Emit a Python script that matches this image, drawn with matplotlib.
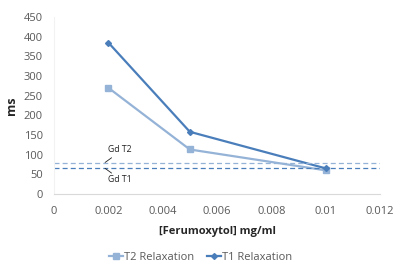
import matplotlib.pyplot as plt
import numpy as np

plt.rcParams['font.family'] = ['Open Sans', 'DejaVu Sans']

conc = [0.002, 0.005, 0.01]
t2_relax = [270, 113, 60]
t1_relax = [385, 158, 65]
gd_t2 = 78
gd_t1 = 67

c_t2 = '#95B3D7'
c_t1 = '#4A7EBB'
grey = '#595959'

fig = plt.figure(figsize=(4.0, 2.66), dpi=100)
ax = fig.add_axes([0.135, 0.271, 0.815, 0.665])

ax.plot(conc, t2_relax, color=c_t2, lw=1.6, marker='s', ms=4.5, label='T2 Relaxation')
ax.plot(conc, t1_relax, color=c_t1, lw=1.6, marker='D', ms=3, label='T1 Relaxation')

ax.axhline(gd_t2, color=c_t2, lw=0.9, ls=(0, (4, 2.5)))
ax.axhline(gd_t1, color=c_t1, lw=0.9, ls=(0, (4, 2.5)))

# labels for the Gd reference lines, with short leader lines
leader = dict(arrowstyle='-', color='#222222', lw=0.6, shrinkA=0, shrinkB=0)
ax.annotate('', xy=(0.00188, gd_t2 + 2), xytext=(0.00212, gd_t2 + 14), arrowprops=leader)
ax.annotate('', xy=(0.00188, gd_t1 - 2), xytext=(0.00212, gd_t1 - 14), arrowprops=leader)
ax.text(0.00243, 112, 'Gd T2', fontsize=6.3, color='#222222', ha='center', va='center')
ax.text(0.00243, 36, 'Gd T1', fontsize=6.3, color='#222222', ha='center', va='center')

ax.set_xlim(0, 0.012)
ax.set_ylim(0, 450)
ax.set_xticks(np.arange(0, 0.0121, 0.002))
ax.set_xticklabels(['0', '0.002', '0.004', '0.006', '0.008', '0.01', '0.012'])
ax.set_yticks(np.arange(0, 451, 50))
ax.tick_params(length=0, labelsize=8, colors=grey)
ax.tick_params(axis='x', pad=9)
ax.tick_params(axis='y', pad=8)

for s in ['top', 'right']:
    ax.spines[s].set_visible(False)
ax.spines['bottom'].set_color('#D9D9D9')
ax.spines['left'].set_color('#F2F2F2')
ax.spines['bottom'].set_linewidth(0.8)
ax.spines['left'].set_linewidth(0.8)

ax.set_ylabel('ms', fontsize=9, fontweight='bold', color='#262626', labelpad=4)
ax.set_xlabel('[Ferumoxytol] mg/ml', fontsize=8, fontweight='bold', color='#262626', labelpad=6)

ax.legend(loc='upper center', bbox_to_anchor=(0.45, -0.27), ncol=2, frameon=False,
          fontsize=8, handlelength=1.2, handletextpad=0.1, columnspacing=1.2,
          labelcolor=grey)

plt.savefig('out.png', dpi=100)
plt.close()
